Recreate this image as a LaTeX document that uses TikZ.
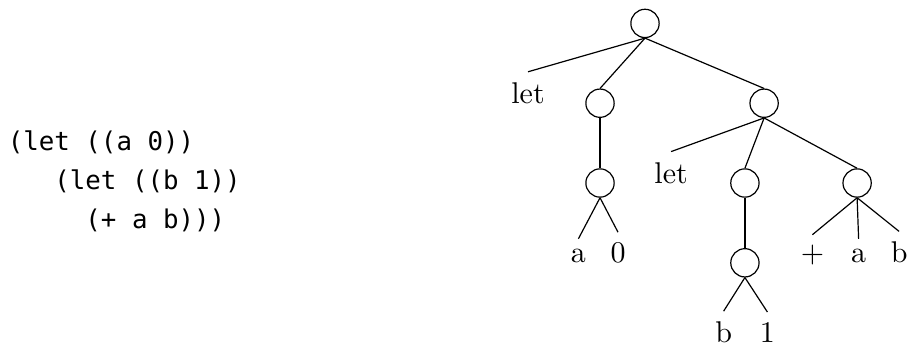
\documentclass[tikz,border=0pt]{standalone}
\usepackage{fontspec}
\setmonofont{DejaVu Sans Mono}
\newcommand{\codefont}{\ttfamily\fontsize{8.6}{13}\selectfont}

\begin{document}
\begin{tikzpicture}[x=1pt,y=-1pt,
        blob/.style={circle,draw},
        leaf/.style={anchor=base},
        code/.style={anchor=base west,inner sep=0pt,font=\codefont}]
    \useasboundingbox (0,0) rectangle (302.33,115);
    % the source
    \node[code] (code1) at (2.4,50) {(let ((a 0))};
    \node[code] (code2) at (2.4,63) {\ \ \ (let ((b 1))};
    \node[code] (code3) at (2.4,76) {\ \ \ \ \ (+ a b)))};
    % the tree
    \node[blob] (root) at (215,7.8) {};
    \node[leaf] (let1) at (176,34.4) {let};
    \node[blob] (c1) at (200,34.4) {};
    \node[blob] (c2) at (254.7,34.4) {};
    \node[blob] (c11) at (200,61) {};
    \node[leaf] (let2) at (223.7,61) {let};
    \node[blob] (c21) at (248.3,61) {};
    \node[blob] (c22) at (285.7,61) {};
    \node[leaf] (a1) at (192.8,87.6) {a};
    \node[leaf] (zero) at (206,87.6) {0};
    \node[blob] (c211) at (248.3,87.6) {};
    \node[leaf] (plus) at (270.8,87.6) {$+$};
    \node[leaf] (a2) at (286.2,87.6) {a};
    \node[leaf] (b2) at (299.7,87.6) {b};
    \node[leaf] (b1) at (241.2,114.2) {b};
    \node[leaf] (one) at (255.8,114.2) {1};
    \draw (root.south) -- (let1.north);
    \draw (root.south) -- (c1.north);
    \draw (root.south) -- (c2.north);
    \draw (c1.south) -- (c11.north);
    \draw (c11.south) -- (a1.north);
    \draw (c11.south) -- (zero.north);
    \draw (c2.south) -- (let2.north);
    \draw (c2.south) -- (c21.north);
    \draw (c2.south) -- (c22.north);
    \draw (c21.south) -- (c211.north);
    \draw (c211.south) -- (b1.north);
    \draw (c211.south) -- (one.north);
    \draw (c22.south) -- (plus.north);
    \draw (c22.south) -- (a2.north);
    \draw (c22.south) -- (b2.north);
\end{tikzpicture}
\end{document}
